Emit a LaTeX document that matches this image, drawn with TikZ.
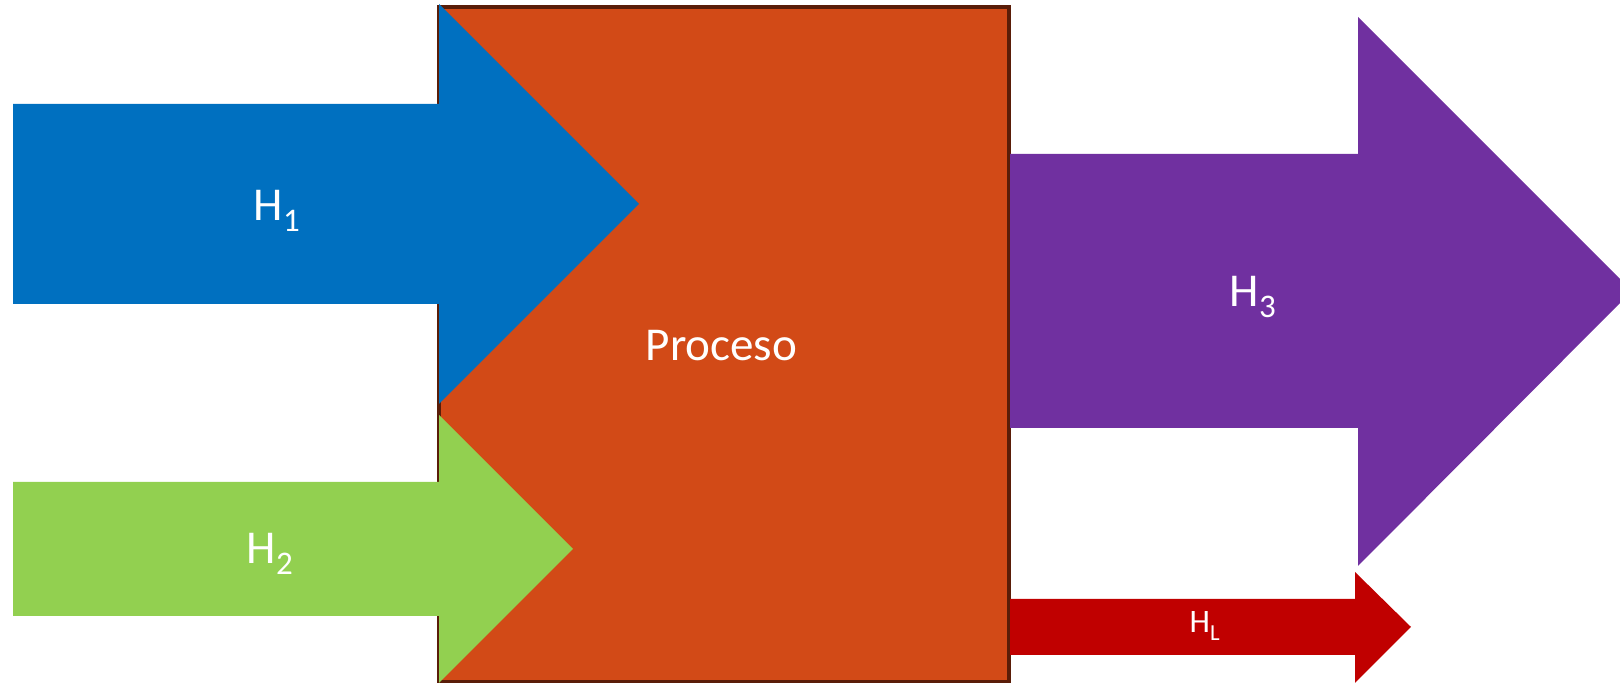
\documentclass[tikz,border=0pt]{standalone}
\usepackage{fontspec}
\setmainfont{Carlito}
\usepackage{xcolor}
\definecolor{procorange}{HTML}{D24A17}
\definecolor{procborder}{HTML}{5A1D08}
\definecolor{honeblue}{HTML}{0070C0}
\definecolor{htwogreen}{HTML}{92D050}
\definecolor{hthreepurple}{HTML}{7030A0}
\definecolor{hlossred}{HTML}{C00000}
\newcommand{\lowidx}[1]{\raisebox{-0.22em}{\scalebox{0.7}{#1}}}

\begin{document}
\begin{tikzpicture}[x=0.01cm,y=-0.01cm,
  flowtext/.style={text=white,inner sep=0pt,anchor=base west,font=\fontsize{13.4}{15}\selectfont},
  smalltext/.style={flowtext,font=\fontsize{9.3}{11}\selectfont}]
	\clip (0,0) rectangle (1620,683);
	\coordinate (pin) at (439,7);
	\coordinate (pout) at (1009,682);
	
	% process box
	\fill[procorange,draw=procborder,line width=0.035cm] (pin) rectangle (pout);
	\node[flowtext] (proc) at (645,361) {Proceso};
	
	% input arrow H1
	\fill[honeblue] (13,104) -- (439,104) -- (439,4) -- (639,204)
	  -- (439,404) -- (439,304) -- (13,304) -- cycle;
	\node[flowtext] (hone) at (253,221) {H\lowidx{1}};
	
	% input arrow H2
	\fill[htwogreen] (13,482) -- (439,482) -- (439,415) -- (573,549)
	  -- (439,683) -- (439,616) -- (13,616) -- cycle;
	\node[flowtext] (htwo) at (246,564) {H\lowidx{2}};
	
	% output arrow H3
	\fill[hthreepurple] (1010,154) -- (1358,154) -- (1358,17) -- (1632,291)
	  -- (1358,566) -- (1358,428) -- (1010,428) -- cycle;
	\node[flowtext] (hthree) at (1229,307) {H\lowidx{3}};
	
	% loss arrow HL
	\fill[hlossred] (1010,599) -- (1355,599) -- (1355,572) -- (1411,627)
	  -- (1355,683) -- (1355,655) -- (1010,655) -- cycle;
	\node[smalltext] (hloss) at (1189,633) {H\lowidx{L}};
\end{tikzpicture}
\end{document}
